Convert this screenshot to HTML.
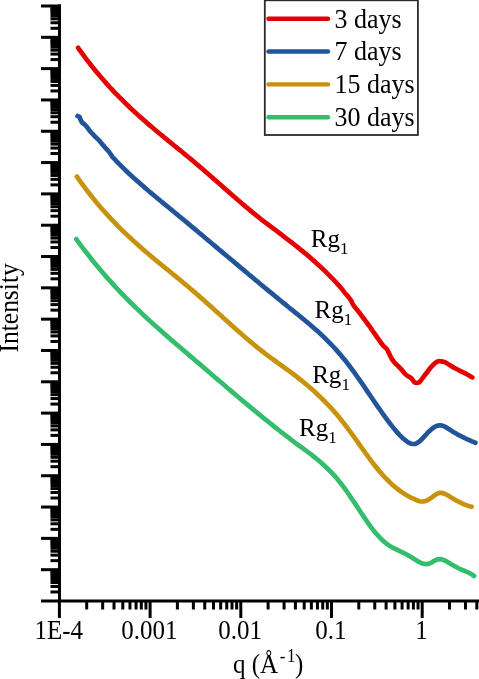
<!DOCTYPE html>
<html><head><meta charset="utf-8"><title>SAXS Intensity plot</title>
<style>html,body{margin:0;padding:0;background:#fff;overflow:hidden}svg{display:block}</style>
</head><body>
<svg width="479" height="679" viewBox="0 0 479 679" font-family="'Liberation Serif', 'Times New Roman', serif" fill="#000">
<rect width="479" height="679" fill="#fff"/>
<path d="M78.1,47.8 80.1,50.6 82.1,53.4 84.1,56.1 86.1,58.8 88.1,61.4 90.1,64.0 92.1,66.5 94.1,69.0 96.1,71.4 98.1,73.8 100.1,76.2 102.1,78.5 104.1,80.8 106.1,83.1 108.1,85.3 110.1,87.5 112.1,89.6 114.1,91.8 116.1,93.9 118.1,95.9 120.1,97.9 122.1,99.9 124.1,101.9 126.1,103.9 128.1,105.8 130.1,107.7 132.1,109.6 134.1,111.4 136.1,113.2 138.1,115.1 140.1,116.9 142.1,118.6 144.1,120.4 146.1,122.1 148.1,123.9 150.1,125.6 152.1,127.3 154.1,129.0 156.1,130.7 158.1,132.3 160.1,134.0 162.1,135.6 164.1,137.3 166.1,138.9 168.1,140.6 170.1,142.2 172.1,143.9 174.1,145.5 176.1,147.1 178.2,148.8 180.2,150.4 182.2,152.0 184.2,153.7 186.2,155.3 188.2,157.0 190.2,158.6 192.2,160.3 194.2,162.0 196.2,163.7 198.2,165.4 200.2,167.1 202.2,168.8 204.2,170.5 206.2,172.3 208.2,174.0 210.2,175.8 212.2,177.5 214.2,179.3 216.2,181.0 218.2,182.8 220.2,184.5 222.2,186.3 224.2,188.1 226.2,189.8 228.2,191.6 230.2,193.3 232.2,195.1 234.2,196.8 236.2,198.5 238.2,200.3 240.2,202.0 242.2,203.7 244.2,205.4 246.2,207.1 248.2,208.7 250.2,210.4 252.2,212.1 254.2,213.7 256.2,215.3 258.2,216.9 260.2,218.5 262.2,220.1 264.2,221.7 266.2,223.2 268.2,224.7 270.2,226.2 272.2,227.7 274.2,229.2 276.2,230.7 278.2,232.2 280.2,233.7 282.2,235.2 284.2,236.8 286.2,238.3 288.2,239.8 290.2,241.3 292.2,242.9 294.2,244.5 296.2,246.1 298.2,247.7 300.2,249.3 302.2,250.9 304.2,252.6 306.2,254.2 308.2,255.9 310.2,257.6 312.2,259.4 314.2,261.1 316.2,262.9 318.2,264.7 320.2,266.6 322.2,268.4 324.2,270.4 326.2,272.3 328.2,274.3 330.2,276.3 332.2,278.4 L332.2,278.4C333.0,279.2 335.4,281.6 336.9,283.3C338.4,284.9 339.9,286.5 341.3,288.2C342.7,289.8 343.8,291.6 345.0,293.1C346.2,294.6 347.6,295.8 348.6,297.1C349.6,298.4 350.5,299.6 351.2,300.8C351.9,302.0 352.1,303.2 352.8,304.3C353.5,305.4 354.1,306.1 355.1,307.4C356.1,308.7 357.6,310.4 358.8,312.0C360.1,313.6 361.4,315.4 362.6,317.0C363.9,318.7 365.1,320.3 366.3,322.0C367.6,323.7 368.8,325.3 370.1,327.1C371.4,328.9 372.5,330.8 373.9,332.7C375.3,334.7 377.0,337.0 378.5,339.1C380.0,341.2 381.6,343.8 383.0,345.4C384.4,347.1 385.8,347.6 386.8,349.0C387.8,350.4 388.4,352.1 389.2,353.7C390.0,355.4 390.9,357.4 391.8,358.9C392.8,360.4 393.8,361.7 394.9,363.0C396.0,364.2 397.4,365.4 398.6,366.6C399.8,367.8 401.1,369.0 402.2,370.3C403.3,371.5 404.3,373.1 405.4,374.2C406.5,375.2 407.6,375.8 408.7,376.6C409.8,377.3 410.9,377.8 411.8,378.8C412.8,379.7 413.6,381.5 414.4,382.2C415.2,382.9 415.7,383.0 416.5,383.0C417.3,383.0 418.3,382.9 419.2,382.3C420.1,381.7 420.7,380.6 421.6,379.4C422.5,378.2 423.8,376.5 424.8,375.2C425.9,373.8 426.9,372.5 427.9,371.2C428.9,369.8 429.9,368.4 431.0,367.2C432.1,365.9 433.1,364.7 434.3,363.7C435.5,362.7 436.6,361.5 438.2,361.2C439.8,360.9 441.9,361.3 443.6,361.8C445.3,362.3 446.8,363.3 448.3,364.2C449.9,365.1 451.1,366.1 452.9,367.1C454.7,368.1 457.0,369.2 459.1,370.3C461.2,371.3 463.2,372.3 465.3,373.4C467.4,374.5 470.3,376.3 471.5,377.0C472.7,377.6 472.2,377.3 472.3,377.4" fill="none" stroke="#e40000" stroke-width="4.7" stroke-linecap="round" stroke-linejoin="round"/><path d="M77.6,116.0C77.9,116.2 79.1,116.5 79.6,117.2C80.1,117.9 80.2,119.1 80.7,120.0C81.2,120.9 81.6,121.8 82.3,122.6C83.0,123.4 84.1,123.9 84.9,124.7C85.7,125.5 86.4,126.4 87.1,127.3C87.8,128.2 88.4,129.0 89.0,129.8C89.6,130.6 90.2,131.4 90.9,132.2C91.6,133.0 92.6,133.9 93.4,134.8C94.2,135.7 95.0,136.5 95.9,137.4C96.8,138.3 97.8,139.0 98.7,140.0C99.7,141.0 100.5,142.2 101.6,143.5C102.7,144.8 104.1,146.3 105.3,147.7C106.5,149.1 107.6,150.1 108.8,151.7C110.0,153.3 112.0,156.2 112.6,157.1 L114.6,159.2 116.6,161.3 118.6,163.4 120.6,165.4 122.6,167.4 124.6,169.4 126.6,171.3 128.6,173.2 130.6,175.1 132.6,176.9 134.6,178.7 136.7,180.5 138.7,182.3 140.7,184.1 142.7,185.8 144.7,187.6 146.7,189.3 148.7,191.0 150.7,192.7 152.7,194.3 154.7,196.0 156.7,197.7 158.7,199.3 160.7,201.0 162.7,202.6 164.7,204.3 166.7,205.9 168.7,207.5 170.7,209.2 172.7,210.8 174.7,212.5 176.7,214.1 178.7,215.8 180.8,217.5 182.8,219.1 184.8,220.8 186.8,222.4 188.8,224.1 190.8,225.8 192.8,227.4 194.8,229.1 196.8,230.8 198.8,232.5 200.8,234.1 202.8,235.8 204.8,237.5 206.8,239.2 208.8,240.9 210.8,242.5 212.8,244.2 214.8,245.9 216.8,247.6 218.8,249.3 220.8,250.9 222.8,252.6 224.8,254.3 226.9,256.0 228.9,257.7 230.9,259.4 232.9,261.0 234.9,262.7 236.9,264.4 238.9,266.1 240.9,267.8 242.9,269.4 244.9,271.1 246.9,272.8 248.9,274.5 250.9,276.1 252.9,277.8 254.9,279.5 256.9,281.1 258.9,282.8 260.9,284.5 262.9,286.1 264.9,287.8 266.9,289.4 268.9,291.1 270.9,292.7 273.0,294.4 275.0,296.0 277.0,297.7 279.0,299.3 281.0,301.0 283.0,302.6 285.0,304.2 287.0,305.8 289.0,307.5 291.0,309.1 293.0,310.7 295.0,312.3 297.0,313.9 299.0,315.5 301.0,317.2 303.0,318.8 305.0,320.5 307.0,322.1 309.0,323.8 311.0,325.5 313.0,327.3 315.0,329.0 317.1,330.8 319.1,332.6 321.1,334.5 323.1,336.4 325.1,338.3 327.1,340.3 329.1,342.3 331.1,344.4 333.1,346.5 335.1,348.6 337.1,350.8 339.1,353.1 341.1,355.5 343.1,357.9 345.1,360.3 347.1,362.9 349.1,365.5 351.1,368.1 353.1,370.9 355.1,373.6 357.1,376.5 359.1,379.3 361.1,382.2 363.2,385.2 365.2,388.1 367.2,391.1 369.2,394.1 371.2,397.0 373.2,400.0 375.2,402.9 377.2,405.8 379.2,408.7 381.2,411.5 383.2,414.3 385.2,417.1 387.2,419.8 389.2,422.5 391.2,425.1 393.2,427.6 395.2,430.0 397.2,432.4 399.2,434.6 401.2,436.6 403.2,438.5 405.2,440.2 407.2,441.7 409.2,442.9 411.2,443.7 413.2,444.0 415.2,443.8 417.1,443.0 419.1,441.7 421.0,440.1 422.8,438.2 424.7,436.1 426.6,434.0 428.4,432.0 430.4,430.2 432.3,428.5 434.3,427.1 436.4,426.0 438.5,425.4 440.6,425.3 442.8,425.8 444.9,426.7 447.0,427.9 449.1,429.2 451.2,430.6 453.3,431.9 455.3,433.1 457.3,434.3 459.4,435.4 461.4,436.4 463.4,437.4 465.4,438.4 467.4,439.3 469.4,440.2 471.4,441.1 473.4,441.9 475.4,442.7" fill="none" stroke="#215499" stroke-width="4.7" stroke-linecap="round" stroke-linejoin="round"/><path d="M76.9,176.6 78.9,179.5 80.9,182.3 82.9,185.0 84.9,187.7 86.9,190.4 88.9,193.0 90.9,195.5 92.9,198.1 94.9,200.5 96.9,202.9 98.9,205.3 100.9,207.7 102.9,210.0 104.9,212.2 107.0,214.5 109.0,216.6 111.0,218.8 113.0,220.9 115.0,223.0 117.0,225.0 119.0,227.1 121.0,229.1 123.0,231.0 125.0,233.0 127.0,234.9 129.0,236.8 131.0,238.6 133.0,240.5 135.0,242.3 137.0,244.1 139.0,245.8 141.0,247.6 143.0,249.4 145.0,251.1 147.0,252.8 149.0,254.5 151.0,256.2 153.0,257.9 155.0,259.5 157.0,261.2 159.0,262.8 161.0,264.5 163.1,266.1 165.1,267.8 167.1,269.4 169.1,271.0 171.1,272.7 173.1,274.3 175.1,275.9 177.1,277.6 179.1,279.2 181.1,280.8 183.1,282.5 185.1,284.2 187.1,285.8 189.1,287.5 191.1,289.2 193.1,290.9 195.1,292.6 197.1,294.4 199.1,296.1 201.1,297.9 203.1,299.6 205.1,301.4 207.1,303.2 209.1,305.0 211.1,306.8 213.1,308.6 215.1,310.4 217.1,312.2 219.2,314.0 221.2,315.8 223.2,317.7 225.2,319.5 227.2,321.3 229.2,323.1 231.2,324.9 233.2,326.7 235.2,328.5 237.2,330.3 239.2,332.0 241.2,333.8 243.2,335.5 245.2,337.3 247.2,339.0 249.2,340.7 251.2,342.4 253.2,344.0 255.2,345.7 257.2,347.3 259.2,348.9 261.2,350.5 263.2,352.0 265.2,353.6 267.2,355.1 269.2,356.6 271.2,358.1 273.2,359.5 275.3,361.0 277.3,362.5 279.3,363.9 281.3,365.4 283.3,366.8 285.3,368.3 287.3,369.7 289.3,371.2 291.3,372.7 293.3,374.2 295.3,375.7 297.3,377.2 299.3,378.8 301.3,380.4 303.3,382.0 305.3,383.6 307.3,385.3 309.3,387.0 311.3,388.7 313.3,390.5 315.3,392.3 317.3,394.2 319.3,396.1 321.3,398.0 323.3,400.0 325.3,402.0 327.3,404.1 329.3,406.2 331.4,408.4 333.4,410.6 335.4,412.9 337.4,415.3 339.4,417.7 341.4,420.2 343.4,422.7 345.4,425.3 347.4,427.9 349.4,430.6 351.4,433.4 353.4,436.1 355.4,438.9 357.4,441.7 359.4,444.6 361.4,447.4 363.4,450.2 365.4,453.0 367.4,455.7 369.4,458.5 371.4,461.1 373.4,463.7 375.4,466.3 377.4,468.8 379.4,471.2 381.4,473.5 383.4,475.8 385.4,477.9 387.5,480.0 389.5,482.0 391.5,483.9 393.5,485.7 395.5,487.4 397.5,489.0 399.5,490.5 401.5,491.9 403.5,493.3 405.5,494.5 407.5,495.7 409.5,496.8 411.5,497.8 413.5,498.7 415.5,499.6 417.5,500.5 419.5,501.2 421.5,501.5 423.5,501.5 425.5,501.0 427.5,500.2 429.5,499.0 431.5,497.6 433.5,496.1 435.5,494.7 437.5,493.5 439.5,492.9 441.5,492.9 443.6,493.4 445.6,494.2 447.6,495.3 449.6,496.5 451.6,497.7 453.6,498.9 455.6,500.1 457.6,501.2 459.6,502.2 461.6,503.2 463.6,504.1 465.6,504.9 467.6,505.6 469.6,506.3 471.6,506.8" fill="none" stroke="#c8920c" stroke-width="4.7" stroke-linecap="round" stroke-linejoin="round"/><path d="M76.3,239.1 78.3,241.8 80.3,244.6 82.3,247.3 84.3,249.9 86.3,252.5 88.4,255.1 90.4,257.7 92.4,260.2 94.4,262.7 96.4,265.1 98.4,267.5 100.4,269.9 102.4,272.3 104.4,274.6 106.4,276.9 108.4,279.2 110.5,281.4 112.5,283.6 114.5,285.8 116.5,288.0 118.5,290.1 120.5,292.3 122.5,294.3 124.5,296.4 126.5,298.5 128.5,300.5 130.5,302.5 132.6,304.5 134.6,306.5 136.6,308.4 138.6,310.3 140.6,312.2 142.6,314.1 144.6,316.0 146.6,317.9 148.6,319.7 150.6,321.6 152.6,323.4 154.7,325.2 156.7,327.0 158.7,328.8 160.7,330.6 162.7,332.4 164.7,334.1 166.7,335.9 168.7,337.6 170.7,339.4 172.7,341.1 174.7,342.8 176.8,344.6 178.8,346.3 180.8,348.0 182.8,349.7 184.8,351.4 186.8,353.1 188.8,354.9 190.8,356.6 192.8,358.3 194.8,360.0 196.8,361.7 198.9,363.4 200.9,365.1 202.9,366.9 204.9,368.6 206.9,370.3 208.9,372.0 210.9,373.7 212.9,375.5 214.9,377.2 216.9,378.9 218.9,380.6 221.0,382.3 223.0,384.0 225.0,385.7 227.0,387.5 229.0,389.2 231.0,390.9 233.0,392.6 235.0,394.3 237.0,396.0 239.0,397.7 241.0,399.4 243.1,401.1 245.1,402.7 247.1,404.4 249.1,406.1 251.1,407.8 253.1,409.4 255.1,411.1 257.1,412.7 259.1,414.4 261.1,416.0 263.1,417.7 265.2,419.3 267.2,420.9 269.2,422.5 271.2,424.1 273.2,425.7 275.2,427.3 277.2,428.9 279.2,430.5 281.2,432.1 283.2,433.6 285.2,435.2 287.3,436.7 289.3,438.2 291.3,439.8 293.3,441.3 295.3,442.8 297.3,444.3 299.3,445.8 301.3,447.2 303.3,448.7 305.3,450.2 307.3,451.7 309.4,453.2 311.4,454.7 313.4,456.3 315.4,457.9 317.4,459.5 319.4,461.2 321.4,462.9 323.4,464.7 325.4,466.6 327.4,468.5 329.4,470.5 331.5,472.5 333.5,474.7 335.5,476.9 337.5,479.3 339.5,481.7 341.5,484.3 343.5,486.9 345.5,489.7 347.5,492.5 349.5,495.4 351.5,498.4 353.6,501.4 355.6,504.4 357.6,507.4 359.6,510.5 361.6,513.5 363.6,516.5 365.6,519.4 367.6,522.3 369.6,525.1 371.6,527.8 373.6,530.4 375.7,532.9 377.7,535.2 379.7,537.4 381.7,539.5 383.7,541.4 385.7,543.0 387.7,544.6 389.7,545.9 391.7,547.1 393.7,548.2 395.7,549.2 397.8,550.2 399.8,551.1 401.8,552.1 403.8,553.0 405.8,554.0 407.8,555.1 409.8,556.2 411.8,557.5 413.8,558.8 415.8,560.1 417.8,561.3 419.9,562.4 421.9,563.2 423.9,563.8 425.9,564.1 427.9,563.9 429.9,563.3 431.9,562.3 433.9,561.1 435.9,560.0 437.9,559.3 439.9,559.1 442.0,559.4 444.0,560.1 446.0,561.1 448.0,562.3 450.0,563.5 452.0,564.7 454.0,565.8 456.0,566.9 458.0,568.0 460.0,569.0 462.0,569.9 464.1,570.7 466.1,571.6 468.1,572.4 470.1,573.4 472.1,574.6 474.1,576.0" fill="none" stroke="#33bd6c" stroke-width="4.7" stroke-linecap="round" stroke-linejoin="round"/>
<rect x="58" y="4.5" width="3" height="598" fill="#000"/><rect x="41" y="4.50" width="20" height="3" fill="#000"/><rect x="41" y="35.82" width="20" height="3" fill="#000"/><rect x="41" y="67.13" width="20" height="3" fill="#000"/><rect x="41" y="98.45" width="20" height="3" fill="#000"/><rect x="41" y="129.76" width="20" height="3" fill="#000"/><rect x="41" y="161.08" width="20" height="3" fill="#000"/><rect x="41" y="192.39" width="20" height="3" fill="#000"/><rect x="41" y="223.71" width="20" height="3" fill="#000"/><rect x="41" y="255.03" width="20" height="3" fill="#000"/><rect x="41" y="286.34" width="20" height="3" fill="#000"/><rect x="41" y="317.66" width="20" height="3" fill="#000"/><rect x="41" y="348.97" width="20" height="3" fill="#000"/><rect x="41" y="380.29" width="20" height="3" fill="#000"/><rect x="41" y="411.61" width="20" height="3" fill="#000"/><rect x="41" y="442.92" width="20" height="3" fill="#000"/><rect x="41" y="474.24" width="20" height="3" fill="#000"/><rect x="41" y="505.55" width="20" height="3" fill="#000"/><rect x="41" y="536.87" width="20" height="3" fill="#000"/><rect x="41" y="568.18" width="20" height="3" fill="#000"/><rect x="50.5" y="26.79" width="10" height="3" fill="#000"/><rect x="50.5" y="21.27" width="10" height="3" fill="#000"/><rect x="50.5" y="17.36" width="10" height="3" fill="#000"/><rect x="50.5" y="14.33" width="10" height="3" fill="#000"/><rect x="50.5" y="11.85" width="10" height="3" fill="#000"/><rect x="50.5" y="9.75" width="10" height="3" fill="#000"/><rect x="50.5" y="7.93" width="10" height="3" fill="#000"/><rect x="50.5" y="6.33" width="10" height="3" fill="#000"/><rect x="50.5" y="58.10" width="10" height="3" fill="#000"/><rect x="50.5" y="52.59" width="10" height="3" fill="#000"/><rect x="50.5" y="48.68" width="10" height="3" fill="#000"/><rect x="50.5" y="45.64" width="10" height="3" fill="#000"/><rect x="50.5" y="43.16" width="10" height="3" fill="#000"/><rect x="50.5" y="41.07" width="10" height="3" fill="#000"/><rect x="50.5" y="39.25" width="10" height="3" fill="#000"/><rect x="50.5" y="37.65" width="10" height="3" fill="#000"/><rect x="50.5" y="89.42" width="10" height="3" fill="#000"/><rect x="50.5" y="83.91" width="10" height="3" fill="#000"/><rect x="50.5" y="79.99" width="10" height="3" fill="#000"/><rect x="50.5" y="76.96" width="10" height="3" fill="#000"/><rect x="50.5" y="74.48" width="10" height="3" fill="#000"/><rect x="50.5" y="72.38" width="10" height="3" fill="#000"/><rect x="50.5" y="70.57" width="10" height="3" fill="#000"/><rect x="50.5" y="68.96" width="10" height="3" fill="#000"/><rect x="50.5" y="120.74" width="10" height="3" fill="#000"/><rect x="50.5" y="115.22" width="10" height="3" fill="#000"/><rect x="50.5" y="111.31" width="10" height="3" fill="#000"/><rect x="50.5" y="108.27" width="10" height="3" fill="#000"/><rect x="50.5" y="105.79" width="10" height="3" fill="#000"/><rect x="50.5" y="103.70" width="10" height="3" fill="#000"/><rect x="50.5" y="101.88" width="10" height="3" fill="#000"/><rect x="50.5" y="100.28" width="10" height="3" fill="#000"/><rect x="50.5" y="152.05" width="10" height="3" fill="#000"/><rect x="50.5" y="146.54" width="10" height="3" fill="#000"/><rect x="50.5" y="142.62" width="10" height="3" fill="#000"/><rect x="50.5" y="139.59" width="10" height="3" fill="#000"/><rect x="50.5" y="137.11" width="10" height="3" fill="#000"/><rect x="50.5" y="135.01" width="10" height="3" fill="#000"/><rect x="50.5" y="133.20" width="10" height="3" fill="#000"/><rect x="50.5" y="131.60" width="10" height="3" fill="#000"/><rect x="50.5" y="183.37" width="10" height="3" fill="#000"/><rect x="50.5" y="177.85" width="10" height="3" fill="#000"/><rect x="50.5" y="173.94" width="10" height="3" fill="#000"/><rect x="50.5" y="170.91" width="10" height="3" fill="#000"/><rect x="50.5" y="168.43" width="10" height="3" fill="#000"/><rect x="50.5" y="166.33" width="10" height="3" fill="#000"/><rect x="50.5" y="164.51" width="10" height="3" fill="#000"/><rect x="50.5" y="162.91" width="10" height="3" fill="#000"/><rect x="50.5" y="214.68" width="10" height="3" fill="#000"/><rect x="50.5" y="209.17" width="10" height="3" fill="#000"/><rect x="50.5" y="205.26" width="10" height="3" fill="#000"/><rect x="50.5" y="202.22" width="10" height="3" fill="#000"/><rect x="50.5" y="199.74" width="10" height="3" fill="#000"/><rect x="50.5" y="197.65" width="10" height="3" fill="#000"/><rect x="50.5" y="195.83" width="10" height="3" fill="#000"/><rect x="50.5" y="194.23" width="10" height="3" fill="#000"/><rect x="50.5" y="246.00" width="10" height="3" fill="#000"/><rect x="50.5" y="240.48" width="10" height="3" fill="#000"/><rect x="50.5" y="236.57" width="10" height="3" fill="#000"/><rect x="50.5" y="233.54" width="10" height="3" fill="#000"/><rect x="50.5" y="231.06" width="10" height="3" fill="#000"/><rect x="50.5" y="228.96" width="10" height="3" fill="#000"/><rect x="50.5" y="227.15" width="10" height="3" fill="#000"/><rect x="50.5" y="225.54" width="10" height="3" fill="#000"/><rect x="50.5" y="277.32" width="10" height="3" fill="#000"/><rect x="50.5" y="271.80" width="10" height="3" fill="#000"/><rect x="50.5" y="267.89" width="10" height="3" fill="#000"/><rect x="50.5" y="264.85" width="10" height="3" fill="#000"/><rect x="50.5" y="262.37" width="10" height="3" fill="#000"/><rect x="50.5" y="260.28" width="10" height="3" fill="#000"/><rect x="50.5" y="258.46" width="10" height="3" fill="#000"/><rect x="50.5" y="256.86" width="10" height="3" fill="#000"/><rect x="50.5" y="308.63" width="10" height="3" fill="#000"/><rect x="50.5" y="303.12" width="10" height="3" fill="#000"/><rect x="50.5" y="299.20" width="10" height="3" fill="#000"/><rect x="50.5" y="296.17" width="10" height="3" fill="#000"/><rect x="50.5" y="293.69" width="10" height="3" fill="#000"/><rect x="50.5" y="291.59" width="10" height="3" fill="#000"/><rect x="50.5" y="289.78" width="10" height="3" fill="#000"/><rect x="50.5" y="288.18" width="10" height="3" fill="#000"/><rect x="50.5" y="339.95" width="10" height="3" fill="#000"/><rect x="50.5" y="334.43" width="10" height="3" fill="#000"/><rect x="50.5" y="330.52" width="10" height="3" fill="#000"/><rect x="50.5" y="327.48" width="10" height="3" fill="#000"/><rect x="50.5" y="325.01" width="10" height="3" fill="#000"/><rect x="50.5" y="322.91" width="10" height="3" fill="#000"/><rect x="50.5" y="321.09" width="10" height="3" fill="#000"/><rect x="50.5" y="319.49" width="10" height="3" fill="#000"/><rect x="50.5" y="371.26" width="10" height="3" fill="#000"/><rect x="50.5" y="365.75" width="10" height="3" fill="#000"/><rect x="50.5" y="361.84" width="10" height="3" fill="#000"/><rect x="50.5" y="358.80" width="10" height="3" fill="#000"/><rect x="50.5" y="356.32" width="10" height="3" fill="#000"/><rect x="50.5" y="354.22" width="10" height="3" fill="#000"/><rect x="50.5" y="352.41" width="10" height="3" fill="#000"/><rect x="50.5" y="350.81" width="10" height="3" fill="#000"/><rect x="50.5" y="402.58" width="10" height="3" fill="#000"/><rect x="50.5" y="397.06" width="10" height="3" fill="#000"/><rect x="50.5" y="393.15" width="10" height="3" fill="#000"/><rect x="50.5" y="390.12" width="10" height="3" fill="#000"/><rect x="50.5" y="387.64" width="10" height="3" fill="#000"/><rect x="50.5" y="385.54" width="10" height="3" fill="#000"/><rect x="50.5" y="383.72" width="10" height="3" fill="#000"/><rect x="50.5" y="382.12" width="10" height="3" fill="#000"/><rect x="50.5" y="433.89" width="10" height="3" fill="#000"/><rect x="50.5" y="428.38" width="10" height="3" fill="#000"/><rect x="50.5" y="424.47" width="10" height="3" fill="#000"/><rect x="50.5" y="421.43" width="10" height="3" fill="#000"/><rect x="50.5" y="418.95" width="10" height="3" fill="#000"/><rect x="50.5" y="416.86" width="10" height="3" fill="#000"/><rect x="50.5" y="415.04" width="10" height="3" fill="#000"/><rect x="50.5" y="413.44" width="10" height="3" fill="#000"/><rect x="50.5" y="465.21" width="10" height="3" fill="#000"/><rect x="50.5" y="459.70" width="10" height="3" fill="#000"/><rect x="50.5" y="455.78" width="10" height="3" fill="#000"/><rect x="50.5" y="452.75" width="10" height="3" fill="#000"/><rect x="50.5" y="450.27" width="10" height="3" fill="#000"/><rect x="50.5" y="448.17" width="10" height="3" fill="#000"/><rect x="50.5" y="446.36" width="10" height="3" fill="#000"/><rect x="50.5" y="444.75" width="10" height="3" fill="#000"/><rect x="50.5" y="496.53" width="10" height="3" fill="#000"/><rect x="50.5" y="491.01" width="10" height="3" fill="#000"/><rect x="50.5" y="487.10" width="10" height="3" fill="#000"/><rect x="50.5" y="484.06" width="10" height="3" fill="#000"/><rect x="50.5" y="481.58" width="10" height="3" fill="#000"/><rect x="50.5" y="479.49" width="10" height="3" fill="#000"/><rect x="50.5" y="477.67" width="10" height="3" fill="#000"/><rect x="50.5" y="476.07" width="10" height="3" fill="#000"/><rect x="50.5" y="527.84" width="10" height="3" fill="#000"/><rect x="50.5" y="522.33" width="10" height="3" fill="#000"/><rect x="50.5" y="518.41" width="10" height="3" fill="#000"/><rect x="50.5" y="515.38" width="10" height="3" fill="#000"/><rect x="50.5" y="512.90" width="10" height="3" fill="#000"/><rect x="50.5" y="510.80" width="10" height="3" fill="#000"/><rect x="50.5" y="508.99" width="10" height="3" fill="#000"/><rect x="50.5" y="507.39" width="10" height="3" fill="#000"/><rect x="50.5" y="559.16" width="10" height="3" fill="#000"/><rect x="50.5" y="553.64" width="10" height="3" fill="#000"/><rect x="50.5" y="549.73" width="10" height="3" fill="#000"/><rect x="50.5" y="546.70" width="10" height="3" fill="#000"/><rect x="50.5" y="544.22" width="10" height="3" fill="#000"/><rect x="50.5" y="542.12" width="10" height="3" fill="#000"/><rect x="50.5" y="540.30" width="10" height="3" fill="#000"/><rect x="50.5" y="538.70" width="10" height="3" fill="#000"/><rect x="50.5" y="590.47" width="10" height="3" fill="#000"/><rect x="50.5" y="584.96" width="10" height="3" fill="#000"/><rect x="50.5" y="581.05" width="10" height="3" fill="#000"/><rect x="50.5" y="578.01" width="10" height="3" fill="#000"/><rect x="50.5" y="575.53" width="10" height="3" fill="#000"/><rect x="50.5" y="573.44" width="10" height="3" fill="#000"/><rect x="50.5" y="571.62" width="10" height="3" fill="#000"/><rect x="50.5" y="570.02" width="10" height="3" fill="#000"/><rect x="41" y="599.5" width="438" height="3" fill="#000"/><rect x="57.90" y="601" width="3" height="17" fill="#000"/><rect x="85.20" y="601" width="3" height="8.5" fill="#000"/><rect x="101.17" y="601" width="3" height="8.5" fill="#000"/><rect x="112.51" y="601" width="3" height="8.5" fill="#000"/><rect x="121.30" y="601" width="3" height="8.5" fill="#000"/><rect x="128.48" y="601" width="3" height="8.5" fill="#000"/><rect x="134.55" y="601" width="3" height="8.5" fill="#000"/><rect x="139.81" y="601" width="3" height="8.5" fill="#000"/><rect x="144.45" y="601" width="3" height="8.5" fill="#000"/><rect x="148.60" y="601" width="3" height="17" fill="#000"/><rect x="175.90" y="601" width="3" height="8.5" fill="#000"/><rect x="191.87" y="601" width="3" height="8.5" fill="#000"/><rect x="203.21" y="601" width="3" height="8.5" fill="#000"/><rect x="212.00" y="601" width="3" height="8.5" fill="#000"/><rect x="219.18" y="601" width="3" height="8.5" fill="#000"/><rect x="225.25" y="601" width="3" height="8.5" fill="#000"/><rect x="230.51" y="601" width="3" height="8.5" fill="#000"/><rect x="235.15" y="601" width="3" height="8.5" fill="#000"/><rect x="239.30" y="601" width="3" height="17" fill="#000"/><rect x="266.60" y="601" width="3" height="8.5" fill="#000"/><rect x="282.57" y="601" width="3" height="8.5" fill="#000"/><rect x="293.91" y="601" width="3" height="8.5" fill="#000"/><rect x="302.70" y="601" width="3" height="8.5" fill="#000"/><rect x="309.88" y="601" width="3" height="8.5" fill="#000"/><rect x="315.95" y="601" width="3" height="8.5" fill="#000"/><rect x="321.21" y="601" width="3" height="8.5" fill="#000"/><rect x="325.85" y="601" width="3" height="8.5" fill="#000"/><rect x="330.00" y="601" width="3" height="17" fill="#000"/><rect x="357.30" y="601" width="3" height="8.5" fill="#000"/><rect x="373.27" y="601" width="3" height="8.5" fill="#000"/><rect x="384.61" y="601" width="3" height="8.5" fill="#000"/><rect x="393.40" y="601" width="3" height="8.5" fill="#000"/><rect x="400.58" y="601" width="3" height="8.5" fill="#000"/><rect x="406.65" y="601" width="3" height="8.5" fill="#000"/><rect x="411.91" y="601" width="3" height="8.5" fill="#000"/><rect x="416.55" y="601" width="3" height="8.5" fill="#000"/><rect x="420.70" y="601" width="3" height="17" fill="#000"/><rect x="448.00" y="601" width="3" height="8.5" fill="#000"/><rect x="463.97" y="601" width="3" height="8.5" fill="#000"/><rect x="475.31" y="601" width="3" height="8.5" fill="#000"/>
<rect x="264.8" y="0.3" width="153.1" height="134.7" fill="none" stroke="#2a2a2a" stroke-width="1.8"/><line x1="268.5" y1="18.8" x2="328" y2="18.8" stroke="#e40000" stroke-width="4.4" stroke-linecap="round"/><text transform="translate(334.6,27.7) scale(1,1.04)" font-size="26">3 days</text><line x1="268.5" y1="51.5" x2="328" y2="51.5" stroke="#215499" stroke-width="4.4" stroke-linecap="round"/><text transform="translate(334.6,60.4) scale(1,1.04)" font-size="26">7 days</text><line x1="268.5" y1="84.4" x2="328" y2="84.4" stroke="#c8920c" stroke-width="4.4" stroke-linecap="round"/><text transform="translate(334.6,93.3) scale(1,1.04)" font-size="26">15 days</text><line x1="268.5" y1="117.2" x2="328" y2="117.2" stroke="#33bd6c" stroke-width="4.4" stroke-linecap="round"/><text transform="translate(334.6,126.1) scale(1,1.04)" font-size="26">30 days</text>
<text transform="translate(58.7,638.7) scale(1,1.06)" text-anchor="middle" font-size="25">1E-4</text><text transform="translate(149.4,638.7) scale(1,1.06)" text-anchor="middle" font-size="25">0.001</text><text transform="translate(240.1,638.7) scale(1,1.06)" text-anchor="middle" font-size="25">0.01</text><text transform="translate(330.8,638.7) scale(1,1.06)" text-anchor="middle" font-size="25">0.1</text><text transform="translate(421.5,638.7) scale(1,1.06)" text-anchor="middle" font-size="25">1</text><text transform="matrix(1,0,0,1.06,0,-40.4)" y="673.2" font-size="25"><tspan x="233">q (Å</tspan><tspan x="279.7" y="662.6" font-size="17">-</tspan><tspan x="286.9" y="662.6" font-size="17">1</tspan><tspan x="295" y="673.2">)</tspan></text><text transform="translate(18.3,352.5) rotate(-90) scale(1,1.06)" font-size="25.5">Intensity</text><text x="310.8" y="246.9" font-size="25">Rg<tspan font-size="17" dy="7">1</tspan></text><text x="314.5" y="317.6" font-size="25">Rg<tspan font-size="17" dy="7">1</tspan></text><text x="312.2" y="383.4" font-size="25">Rg<tspan font-size="17" dy="7">1</tspan></text><text x="299.0" y="436.0" font-size="25">Rg<tspan font-size="17" dy="7">1</tspan></text>
</svg>
</body></html>
